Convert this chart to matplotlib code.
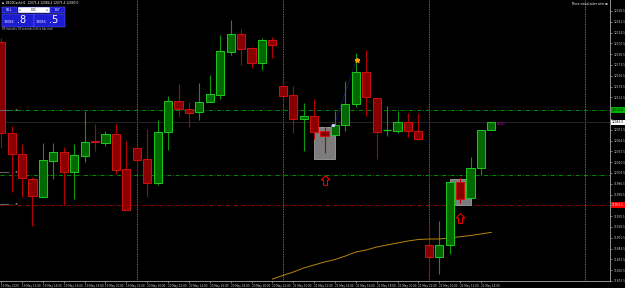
import matplotlib
matplotlib.use("Agg")
import matplotlib.pyplot as plt
import matplotlib.transforms as mtransforms
from matplotlib.patches import Rectangle
from matplotlib.path import Path

# .DE30Cash H1 bars (oldest first)
opens = [12209.7, 12066.5, 12033.4, 11994.0, 11965.7, 12022.4, 12036.5, 12005.0,
         12030.2, 12053.1, 12050.7, 12064.9, 12009.7, 12042.8, 12025.5, 11987.7,
         12068.0, 12116.8, 12104.2, 12099.5, 12115.2, 12126.3, 12193.9, 12222.3,
         12200.2, 12176.6, 12212.8, 12140.4, 12126.3, 12088.5, 12093.2, 12069.6,
         12063.3, 12079.0, 12112.1, 12162.5, 12121.5, 12071.2, 12069.6, 12083.8,
         12069.6, 11890.2, 11871.3, 11890.2, 11989.3, 11964.1, 12011.3, 12071.4]
highs = [12216.0, 12077.5, 12049.1, 11997.2, 12050.7, 12050.7, 12044.4, 12049.1,
         12101.0, 12080.6, 12069.6, 12080.6, 12053.9, 12049.1, 12072.7, 12086.9,
         12124.7, 12143.6, 12115.2, 12145.1, 12157.7, 12220.7, 12244.3, 12230.2,
         12201.8, 12216.0, 12217.6, 12153.0, 12140.4, 12113.7, 12120.0, 12075.9,
         12101.0, 12148.3, 12192.4, 12197.1, 12121.5, 12108.9, 12101.0, 12097.9,
         12097.9, 11924.8, 11927.9, 11989.3, 11997.2, 12028.7, 12071.2, 12084.2]
lows = [12042.8, 11973.6, 11965.7, 11920.1, 11965.7, 11994.0, 11953.1, 11962.6,
        12020.8, 12038.1, 12046.0, 12001.9, 11945.3, 12003.5, 11965.7, 11984.6,
        12039.7, 12091.6, 12075.9, 12086.9, 12115.2, 12120.0, 12189.2, 12173.5,
        12168.8, 12165.6, 12184.5, 12124.7, 12066.5, 12038.1, 12057.0, 12035.0,
        12063.3, 12069.6, 12107.4, 12093.2, 12025.5, 12061.7, 12066.5, 12060.2,
        12057.0, 11838.2, 11844.5, 11876.0, 11956.3, 11964.1, 12000.3, 12071.4]
closes = [12066.5, 12033.4, 11995.6, 11967.3, 12023.9, 12036.5, 12005.0, 12031.8,
          12052.3, 12051.6, 12064.9, 12008.2, 11945.3, 12023.9, 11987.7, 12068.0,
          12116.8, 12104.2, 12097.9, 12115.2, 12127.8, 12195.5, 12222.3, 12198.7,
          12176.6, 12212.8, 12205.0, 12124.7, 12088.5, 12093.2, 12068.0, 12061.7,
          12079.0, 12112.1, 12162.5, 12123.1, 12068.0, 12072.0, 12083.8, 12069.6,
          12057.0, 11871.3, 11890.2, 11989.3, 11962.6, 12011.3, 12071.2, 12083.0]

# moving average, bars 26..47
ma_start = 26
ma_vals = [11836.6, 11842.2, 11847.6, 11854.0, 11858.7, 11863.4, 11867.3, 11872.8,
           11879.1, 11882.3, 11887.0, 11890.2, 11893.3, 11896.5, 11898.8, 11899.6,
           11899.6, 11901.2, 11903.2, 11905.1, 11907.5, 11910.1]

day_breaks = [13, 27, 41, 56]
time_labels = ["19 May 2020", "19 May 12:00", "19 May 14:00", "19 May 16:00",
               "19 May 18:00", "19 May 20:00", "19 May 22:00", "20 May 10:00",
               "20 May 12:00", "20 May 14:00", "20 May 16:00", "20 May 18:00",
               "20 May 20:00", "20 May 22:00", "21 May 10:00", "21 May 12:00",
               "21 May 14:00", "21 May 16:00", "21 May 18:00", "21 May 20:00",
               "21 May 22:00", "22 May 10:00", "22 May 12:00", "22 May 14:00"]
price_ticks = [12258.5 - 17.0 * k for k in range(26)]

level_green_hi = 12102.6
level_green_lo = 12000.3
level_red = 11953.1
bid = 12083.0

fig = plt.figure(figsize=(6.25, 2.88), dpi=100, facecolor="black")
ax = fig.add_axes([0, 7 / 288, 610 / 625, 281 / 288])
ax.set_facecolor("black")
ax.set_xlim(-0.115, 58.37)
ax.set_ylim(11833.5, 12275.8)

up_face, up_edge, up_wick = "#006a00", "#1ec81e", "#0a9a0a"
dn_face, dn_edge, dn_wick = "#8a0000", "#d01010", "#b00000"

# day separators
for d in day_breaks:
    ax.axvline(d, color="#8c8c8c", ls=(0, (1, 1)), lw=0.6, zorder=0.5)

# levels
ax.axhline(level_green_hi, color="#00a000", ls=(0, (5, 2, 1, 2)), lw=0.6, zorder=0.6)
ax.axhline(level_green_lo, color="#00a000", ls=(0, (5, 2, 1, 2)), lw=0.6, zorder=0.6)
ax.axhline(level_red, color="#a00000", ls=(0, (5, 2, 1, 2)), lw=0.6, zorder=0.6)
ax.axhline(bid, color="#2a2a2a", lw=0.6, zorder=0.6)

# order boxes
ax.add_patch(Rectangle((30, 12025.5), 2.0, 50.4, facecolor="#7c7c7c",
                       edgecolor="#a0a0a0", lw=0.6, zorder=1))
ax.add_patch(Rectangle((43, 11953.1), 2.0, 40.9, facecolor="#7c7c7c",
                       edgecolor="#a0a0a0", lw=0.6, zorder=1))

# candles
for i, (o, h, l, c) in enumerate(zip(opens, highs, lows, closes)):
    up = c >= o
    ax.vlines(i, l, h, color=up_wick if up else dn_wick, lw=0.8, zorder=2)
    if abs(c - o) < 1.2:
        ax.hlines(o, i - 0.4, i + 0.4, color=up_edge if up else dn_edge, lw=0.9, zorder=3)
    else:
        ax.bar(i, abs(c - o), bottom=min(o, c), width=0.78,
               color=up_face if up else dn_face,
               edgecolor=up_edge if up else dn_edge, lw=0.7, zorder=3)

# MA
ax.plot(range(ma_start, ma_start + len(ma_vals)), ma_vals, color="#b8860b", lw=0.7, zorder=2.5)

# signals
up_arrow = Path([(0, 1), (0.9, 0.1), (0.4, 0.1), (0.4, -1), (-0.4, -1), (-0.4, 0.1),
                 (-0.9, 0.1), (0, 1)], closed=True)
ax.plot([32, 34.1], [12082.2, 12184.5], color="#2828c8", ls=(0, (1, 1)), lw=0.6, zorder=2.6)
ax.plot(34.1, 12182.0, marker="*", color="#ff9900", ms=3.5, zorder=4)
ax.plot(31.8, 12079.0, marker="s", color="#d0d0ff", ms=1.2, zorder=4)
ax.plot([31, 44], [11991.8, 11932.0], ls="none", marker=up_arrow, ms=7,
        mfc="black", mec="red", mew=0.7, zorder=4)
ax.text(47.5, 12080.5, "12083", color="#c000c0", fontsize=2, va="center", zorder=4)

# axes styling
for s in ["top", "left"]:
    ax.spines[s].set_visible(False)
for s in ["right", "bottom"]:
    ax.spines[s].set_color("#a8a8a8")
    ax.spines[s].set_linewidth(0.6)
ax.yaxis.tick_right()
highlights = [(level_green_hi, "#00b000", "black"), (bid, "white", "black"),
              (level_red, "#ff0000", "white")]
ax.set_yticks(price_ticks)
ax.set_yticklabels(["" if any(abs(v - h[0]) < 7 for h in highlights) else f"{v:.1f}"
                    for v in price_ticks])
ax.tick_params(axis="y", colors="#c8c8c8", labelsize=2.1, length=1.5, width=0.4, pad=1)
ax.set_xticks(list(range(0, 2 * len(time_labels), 2)))
ax.set_xticklabels(time_labels)
ax.tick_params(axis="x", colors="#c8c8c8", labelsize=2.0, length=1.5, width=0.4, pad=0.8)
plt.setp(ax.get_xticklabels(), ha="left")

# price labels on the scale
tr = mtransforms.blended_transform_factory(ax.transAxes, ax.transData)
for val, fc, tc in highlights:
    ax.text(1.003, val, f"{val:.1f}", transform=tr, fontsize=2.1, color=tc, va="center",
            ha="left", clip_on=False, zorder=5,
            bbox=dict(facecolor=fc, edgecolor="none", pad=0.6))

# overlay in pixel coords for the trading panel and labels
ov = fig.add_axes([0, 0, 1, 1], facecolor="none")
ov.set_xlim(0, 625)
ov.set_ylim(288, 0)
ov.axis("off")

ov.text(2, 3, "\u25aa .DE30Cash,H1  12071.4 12084.2 12071.4 12083.0", color="white",
        fontsize=2.1, va="center")
ov.text(608, 4, "Move visual order alter \u22a0", color="white", fontsize=2.1, va="center", ha="right")

blue = "#1c1cd2"
ov.add_patch(Rectangle((2, 6.5), 15, 6.5, fc=blue, ec="#7070ff", lw=0.3))
ov.add_patch(Rectangle((17.5, 6.5), 32, 6.5, fc="white", ec=blue, lw=0.3))
ov.add_patch(Rectangle((50, 6.5), 15, 6.5, fc=blue, ec="#7070ff", lw=0.3))
ov.add_patch(Rectangle((2, 13.5), 31.5, 13.5, fc=blue, ec="#7070ff", lw=0.3))
ov.add_patch(Rectangle((34, 13.5), 31, 13.5, fc=blue, ec="#7070ff", lw=0.3))
ov.text(9.5, 9.8, "SELL", color="white", fontsize=2, ha="center", va="center")
ov.text(57.5, 9.8, "BUY", color="white", fontsize=2, ha="center", va="center")
ov.text(33.5, 9.8, "0.01", color="black", fontsize=2, ha="center", va="center")
ov.text(20, 9.8, "\u25aa", color="#808080", fontsize=2, ha="center", va="center")
ov.text(47, 9.8, "\u25aa", color="#808080", fontsize=2, ha="center", va="center")
ov.text(4, 22, "12082", color="white", fontsize=2.4, va="center")
ov.text(17, 20, ".8", color="white", fontsize=7, va="center")
ov.text(36, 22, "12083", color="white", fontsize=2.4, va="center")
ov.text(49, 20, ".5", color="white", fontsize=7, va="center")
ov.text(2, 29, "59 minutes 34 seconds left to bar end", color="#c0c0c0", fontsize=1.9, va="center")

for yy in [110, 172, 204]:
    ov.plot([0, 8], [yy, yy], color="#606060", lw=0.8)
    ov.text(9, yy, "- - - - \u22a0", color="#909090", fontsize=1.8, va="center")

fig.savefig("out.png", dpi=100, facecolor="black")
